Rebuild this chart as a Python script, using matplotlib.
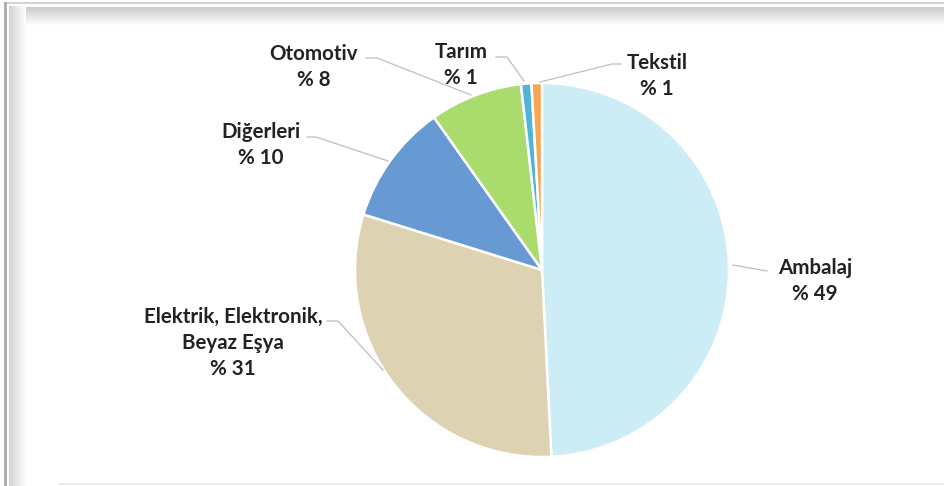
import numpy as np
import matplotlib
matplotlib.use("Agg")
import matplotlib.pyplot as plt

# ---- data ----
categories = ["Ambalaj", "Elektrik, Elektronik,\nBeyaz Eşya", "Diğerleri", "Otomotiv", "Tarım", "Tekstil"]
shares = [49.2, 30.6, 10.4, 8.0, 0.9, 0.9]
pct_labels = ["% 49", "% 31", "% 10", "% 8", "% 1", "% 1"]
colors = ["#CDEDF6", "#DDD3B2", "#6799D2", "#A9DB6D", "#4FB4D8", "#F8A552"]

W, H = 944, 486
fig = plt.figure(figsize=(W / 100, H / 100), dpi=100)
ax = fig.add_axes([0, 0, 1, 1])

def py(y):  # pixel row -> data y
    return H - y

# ---- frame with soft shadow ----
grad_top = np.linspace(0.80, 1.0, 40).reshape(-1, 1)
ax.imshow(np.repeat(grad_top, 10, axis=1), cmap="gray", vmin=0, vmax=1,
          extent=(10, W, py(26), py(7)), aspect="auto", zorder=0, interpolation="bilinear")
grad_left = np.linspace(0.82, 1.0, 40).reshape(1, -1)
ax.imshow(np.repeat(grad_left, 10, axis=0), cmap="gray", vmin=0, vmax=1,
          extent=(9, 26, py(H), py(7)), aspect="auto", zorder=0, interpolation="bilinear")
ax.plot([5, W], [py(3), py(3)], color="#d4d4d4", lw=1.5, zorder=1)
ax.plot([5, 5], [py(3), py(H)], color="#a8a8a8", lw=2.0, zorder=1)
ax.plot([60, W], [py(484), py(484)], color="#e6e6e6", lw=1.2, zorder=1)

# ---- pie ----
cx, cy, r = 542, py(270), 187
wedges, _ = ax.pie(shares, colors=colors, startangle=90, counterclock=False,
                   center=(cx, cy), radius=r, frame=True,
                   wedgeprops=dict(edgecolor="white", linewidth=1.8))

# ---- labels and leader lines (layout in pixel coords) ----
font = dict(family=["Lato", "DejaVu Sans"], fontweight="bold", fontsize=14.8, color="#222222")
label_pos = [(815, 281), (233, 343), (261, 145), (314, 67), (461, 65), (657, 76)]
leaders = [
    [(767, 271), (733, 265)],
    [(327, 321), (338, 321), (383, 370)],
    [(307, 137), (316, 137), (388, 161)],
    [(366, 58), (377, 58), (471, 95)],
    [(496, 57), (507, 57), (524, 81)],
    [(621, 64), (612, 64), (540, 82)],
]
for cat, pl, (lx, ly), pts in zip(categories, pct_labels, label_pos, leaders):
    ax.text(lx, py(ly), f"{cat}\n{pl}", ha="center", va="center",
            multialignment="center", linespacing=1.35, **font)
    xs = [p[0] for p in pts]
    ys = [py(p[1]) for p in pts]
    ax.plot(xs, ys, color="#bfbfbf", lw=0.9, zorder=3)

ax.set_xlim(0, W)
ax.set_ylim(0, H)
ax.set_aspect("auto")
ax.axis("off")
fig.savefig("out.png", dpi=100, facecolor="white")
